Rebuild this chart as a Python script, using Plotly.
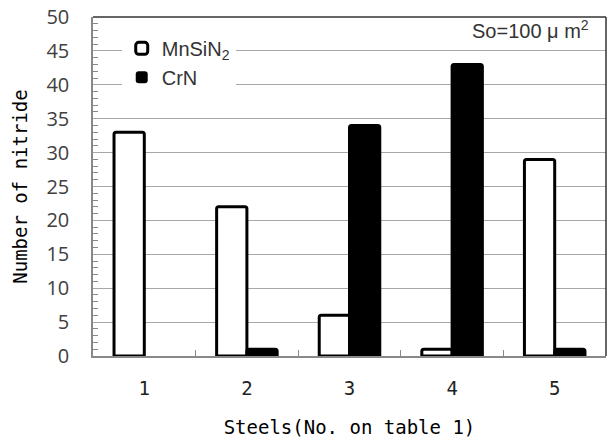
import plotly.graph_objects as go

steels = ["1", "2", "3", "4", "5"]
mnsin2 = [33, 22, 6, 1, 29]
crn = [0, 1, 34, 43, 1]

mono = "DejaVu Sans Mono"
sans = "Liberation Sans"

fig = go.Figure()
fig.add_trace(go.Bar(
    x=steels, y=mnsin2, name="MnSiN<sub>2</sub>",
    marker=dict(color="white",
                line=dict(color="black", width=[3 if v else 0 for v in mnsin2]),
                cornerradius=2),
    legendgroup="a",
))
fig.add_trace(go.Bar(
    x=steels, y=crn, name="CrN",
    marker=dict(color="black",
                line=dict(color="black", width=[3 if v else 0 for v in crn]),
                cornerradius=2),
    legendgroup="b",
))

fig.update_layout(
    width=609, height=441,
    margin=dict(l=93, r=3, t=15, b=85),
    paper_bgcolor="white", plot_bgcolor="white",
    barmode="group", bargap=0.41, bargroupgap=0,
    showlegend=True,
    legend=dict(
        x=0.056, y=0.965, xanchor="left", yanchor="top",
        bgcolor="white", borderwidth=0,
        font=dict(family=sans, size=20, color="#333333"),
        tracegroupgap=0, traceorder="grouped",
        entrywidth=125, entrywidthmode="pixels",
    ),
    xaxis=dict(
        type="category", categoryorder="array", categoryarray=steels,
        range=[-0.5, 4.5],
        tickson="boundaries", ticks="inside", ticklen=6, tickwidth=1, tickcolor="#888888",
        showline=True, linecolor="#888888", linewidth=1.5,
        showgrid=False,
        tickfont=dict(family=mono, size=19, color="#222222"),
        ticklabelstandoff=14,
        title=dict(text="Steels(No. on table 1)", font=dict(family=mono, size=19, color="black"), standoff=23),
    ),
    yaxis=dict(
        range=[0, 50], dtick=5, tick0=0,
        showgrid=True, gridcolor="#a8a8a8", gridwidth=1,
        ticks="", zeroline=False,
        showline=True, linecolor="#888888", linewidth=1.5,
        minor=dict(dtick=1, ticks="inside", ticklen=5, tickcolor="#888888", tickwidth=1, showgrid=False),
        tickfont=dict(family="Open Sans", size=20, color="#404040"),
        ticklabelstandoff=18, ticklabeloverflow="allow",
        title=dict(text="Number of nitride", font=dict(family=mono, size=19, color="black"), standoff=14),
    ),
    annotations=[dict(
        text="So=100 μ m<sup>2</sup>", xref="paper", yref="paper",
        x=0.97, y=0.962, xanchor="right", yanchor="middle", showarrow=False,
        font=dict(family=sans, size=20, color="#333333"),
    )],
    shapes=[
        dict(type="line", xref="paper", yref="paper", x0=0, x1=1, y0=1, y1=1,
             line=dict(color="#333333", width=1.5)),
        dict(type="line", xref="paper", yref="paper", x0=1, x1=1, y0=0, y1=1,
             line=dict(color="#333333", width=1.5)),
    ],
)

# remove the default 8px page margin so the 609x441 figure fills the window
fig.write_html("out.html", config={"displayModeBar": False},
               post_script="document.body.style.margin='0';")
